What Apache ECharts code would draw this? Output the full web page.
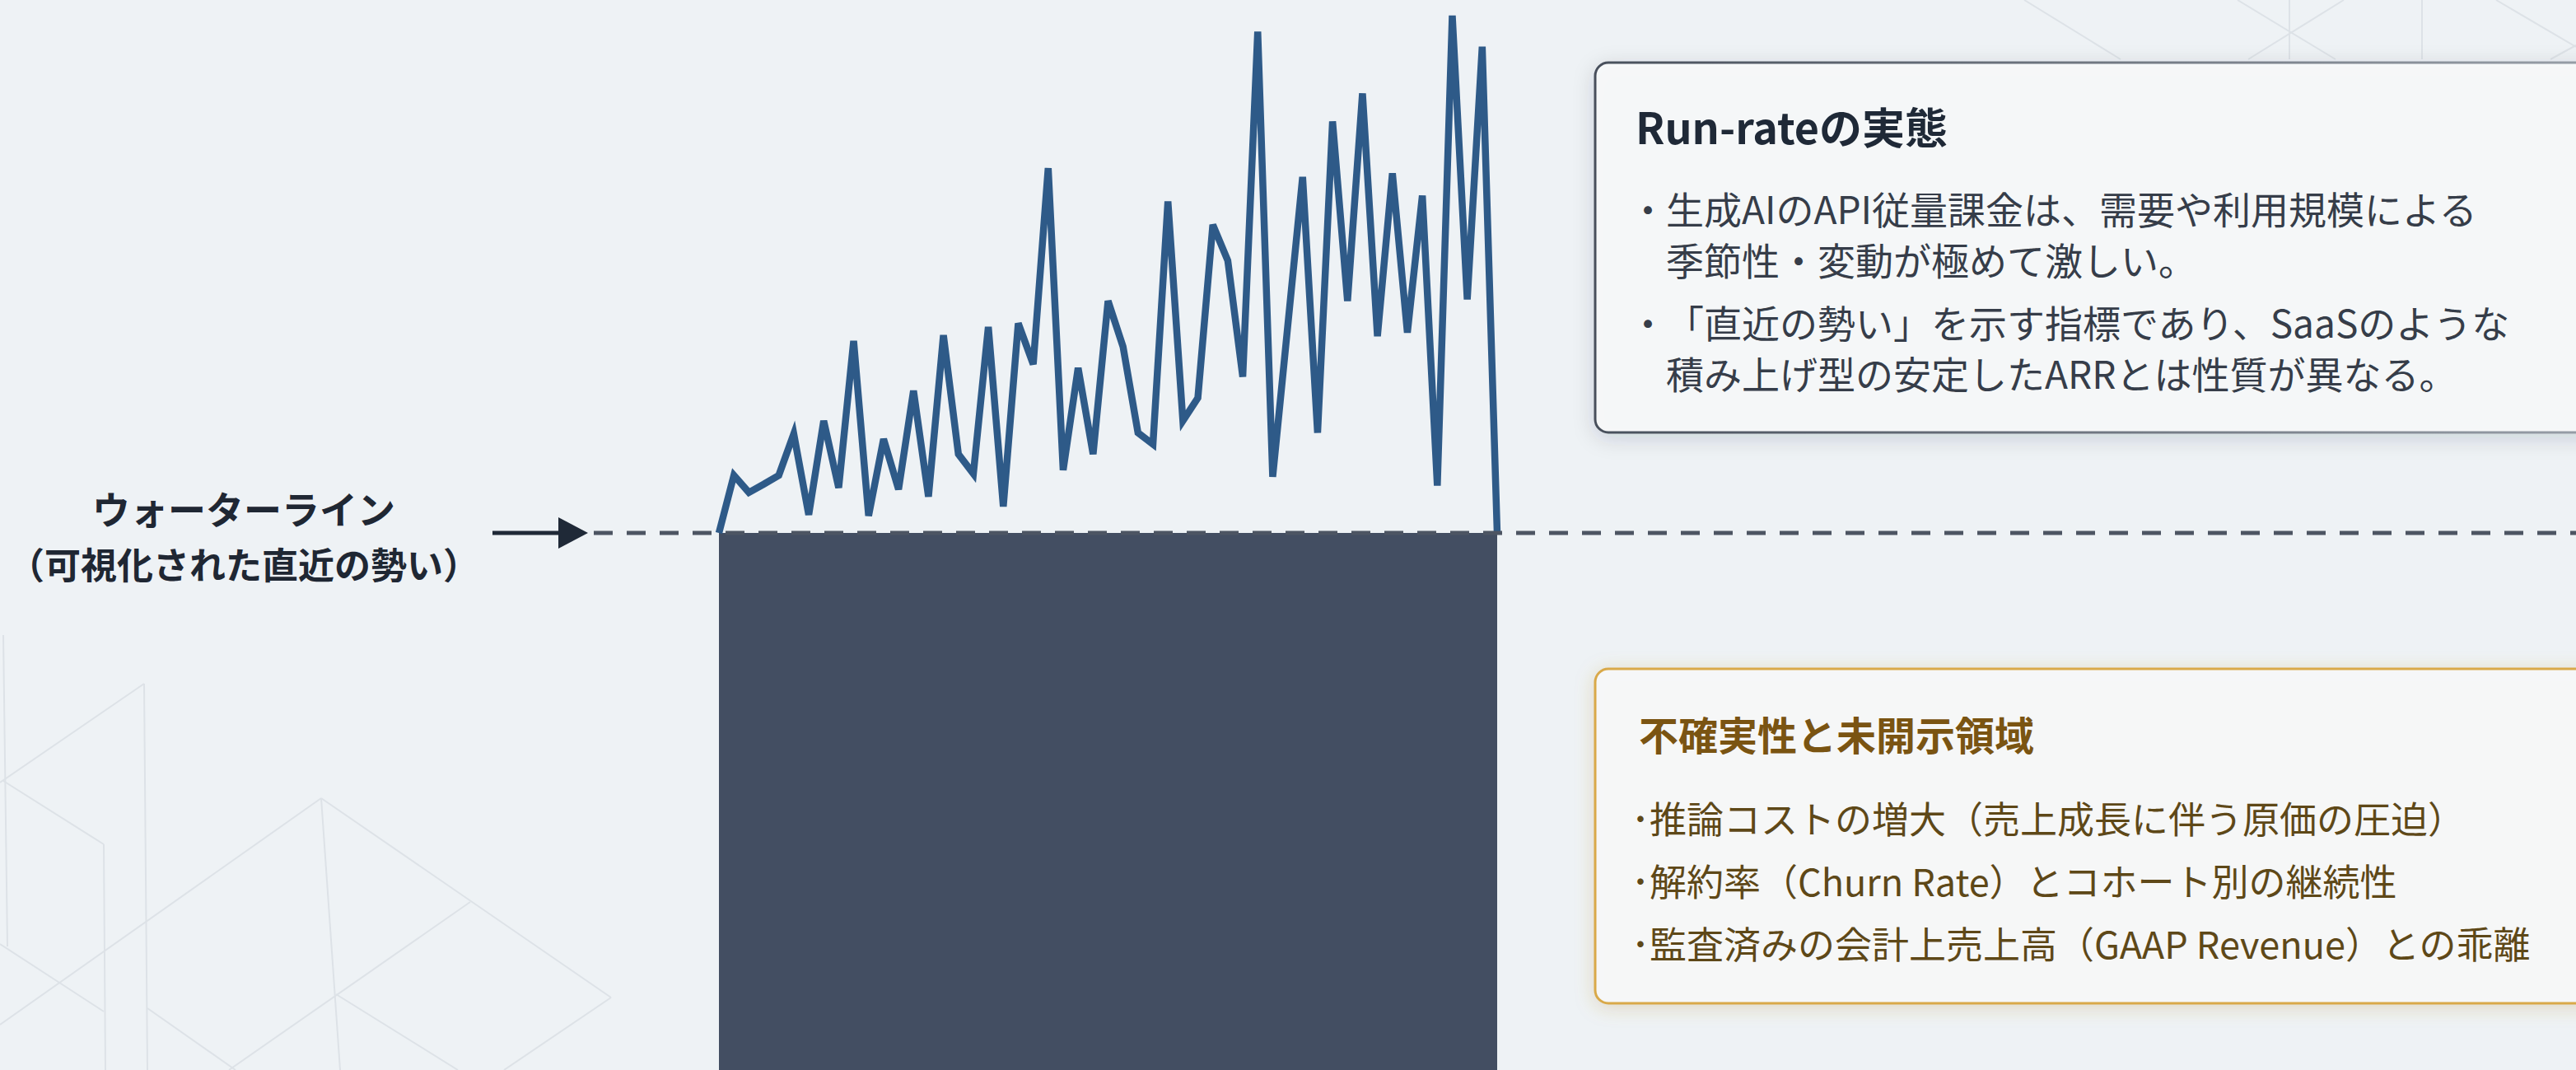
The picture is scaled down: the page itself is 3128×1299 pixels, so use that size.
<!DOCTYPE html>
<html><head><meta charset="utf-8">
<script src="https://cdn.jsdelivr.net/npm/echarts@6/dist/echarts.min.js"></script>
<style>html,body{margin:0;padding:0;background:#eef2f5;}#c{width:3128px;height:1299px;}</style>
</head><body><div id="c"></div>
<script>
// ---- data ----
const periods = ['1','2','3','4','5','6','7','8','9','10','11','12','13','14','15','16','17','18','19','20',
  '21','22','23','24','25','26','27','28','29','30','31','32','33','34','35','36','37','38','39','40',
  '41','42','43','44','45','46','47','48','49','50','51','52','53'];
const runRate = [0, 11.1, 7.8, 9.4, 11.1, 19.1, 3.5, 21.6, 8.7, 37.0, 3.3, 18.1, 8.4, 27.4, 7.0, 38.1, 15.2, 11.4,
  39.7, 5.1, 40.4, 32.5, 70.3, 12.1, 31.8, 15.2, 44.7, 35.9, 19.3, 17.1, 63.9, 21.6, 26.0, 59.4, 52.5, 30.1,
  96.6, 10.8, 39.7, 68.6, 19.3, 79.3, 44.7, 84.7, 37.9, 69.3, 38.6, 65.0, 9.1, 99.7, 45.0, 93.7, 0];
const waterline = 0;
const yMin = -103.5, yMax = 102.7;
const leftLabel = ['ウォーターライン', '（可視化された直近の勢い）'];
const box1Title = 'Run-rateの実態';
const box1Bullets = [
  ['生成AIのAPI従量課金は、需要や利用規模による', '季節性・変動が極めて激しい。'],
  ['「直近の勢い」を示す指標であり、SaaSのような', '積み上げ型の安定したARRとは性質が異なる。']
];
const box2Title = '不確実性と未開示領域';
const box2Bullets = [
  '推論コストの増大（売上成長に伴う原価の圧迫）',
  '解約率（Churn Rate）とコホート別の継続性',
  '監査済みの会計上売上高（GAAP Revenue）との乖離'
];

// ---- chart ----
const FONT = "'Noto Sans CJK JP','Noto Sans',sans-serif";
const chart = echarts.init(document.getElementById('c'), null, {renderer: 'svg'});
chart.setOption({
  backgroundColor: '#eef2f5',
  animation: false,
  grid: {left: 873, right: 1310, top: 0, bottom: 0},
  xAxis: {type: 'category', data: periods, boundaryGap: false, show: false},
  yAxis: {type: 'value', min: yMin, max: yMax, show: false},
  series: [{
    type: 'line', data: runRate, showSymbol: false, z: 3,
    lineStyle: {color: '#2e5a88', width: 8.5, join: 'miter'},
    markArea: {
      silent: true,
      itemStyle: {color: '#434e62', opacity: 1},
      data: [[{coord: [periods[0], waterline]}, {coord: [periods[periods.length - 1], yMin]}]]
    }
  }]
});

const y0 = chart.convertToPixel({gridIndex: 0}, [periods[0], waterline])[1];

const bgSegs = [
  [[4,771],[9,1149]], [[0,950],[175,830]], [[175,830],[179,1299]], [[4,948],[126,1025]],
  [[126,1025],[128,1299]], [[0,1146],[126,1228]], [[0,1244],[390,969]], [[390,969],[742,1211]],
  [[390,969],[413,1299]], [[571,1095],[278,1299]], [[742,1211],[612,1299]], [[408,1207],[556,1299]],
  [[179,1224],[286,1299]],
  [[2458,0],[2575,72]], [[2717,0],[2836,72]], [[2846,0],[2730,72]], [[2780,0],[2780,72]],
  [[2941,0],[2941,72]], [[3031,0],[3128,57]], [[3097,72],[3128,55]]
];
const g = [];
bgSegs.forEach(s => g.push({type: 'polyline', z: 0, silent: true, shape: {points: s},
  style: {stroke: '#dde2e7', lineWidth: 2, fill: null}}));

// waterline dashed + arrow
g.push({type: 'line', z: 10, shape: {x1: 721, y1: y0, x2: 3128, y2: y0},
  style: {stroke: '#4d5563', lineWidth: 5, lineDash: [23, 17]}});
g.push({type: 'line', z: 10, shape: {x1: 598, y1: y0, x2: 684, y2: y0},
  style: {stroke: '#1f2937', lineWidth: 5}});
g.push({type: 'polygon', z: 10, shape: {points: [[678, y0 - 19], [714, y0], [678, y0 + 19]]},
  style: {fill: '#1f2937'}});

// left label
leftLabel.forEach((t, i) => g.push({type: 'text', z: 10, style: {
  text: t, x: 296, y: 616 + i * 68, align: 'center', verticalAlign: 'middle',
  fontSize: i === 0 ? 46 : 44, fontWeight: 'bold', fontFamily: FONT, fill: '#1f2733'}}));

// box 1
g.push({type: 'rect', z: 8, shape: {x: 1937, y: 76, width: 1260, height: 449, r: 16},
  style: {fill: 'rgba(247,249,250,0.92)', lineWidth: 3,
    stroke: new echarts.graphic.LinearGradient(0, 0, 1, 0, [{offset: 0, color: '#48505c'}, {offset: 1, color: '#9aa1aa'}]),
    shadowBlur: 26, shadowColor: 'rgba(30,40,60,0.16)', shadowOffsetY: 6}});
g.push({type: 'text', z: 10, style: {text: box1Title, x: 1986, y: 152, align: 'left', verticalAlign: 'middle',
  fontSize: 52, fontWeight: 'bold', fontFamily: FONT, fill: '#1f2937'}});
const b1y = [[252, 314], [390, 452]];
box1Bullets.forEach((lines, bi) => {
  g.push({type: 'text', z: 10, style: {text: '・', x: 2001, y: b1y[bi][0], align: 'center', verticalAlign: 'middle',
    fontSize: 46, fontFamily: FONT, fill: '#363d49'}});
  lines.forEach((t, li) => g.push({type: 'text', z: 10, style: {text: t, x: 2023, y: b1y[bi][li],
    align: 'left', verticalAlign: 'middle', fontSize: 46, fontFamily: FONT, fill: '#363d49'}}));
});

// box 2
g.push({type: 'rect', z: 8, shape: {x: 1937, y: 812, width: 1260, height: 406, r: 16},
  style: {fill: 'rgba(247,249,250,0.92)', lineWidth: 3, stroke: '#d9a94a',
    shadowBlur: 22, shadowColor: 'rgba(190,140,50,0.28)', shadowOffsetY: 4}});
g.push({type: 'text', z: 10, style: {text: box2Title, x: 1990, y: 890, align: 'left', verticalAlign: 'middle',
  fontSize: 48, fontWeight: 'bold', fontFamily: FONT, fill: '#7a5412'}});
box2Bullets.forEach((t, i) => {
  const yy = 992 + i * 76;
  g.push({type: 'text', z: 10, style: {text: '･', x: 1992, y: yy, align: 'center', verticalAlign: 'middle',
    fontSize: 45, fontFamily: FONT, fill: '#5e4818'}});
  g.push({type: 'text', z: 10, style: {text: t, x: 2003, y: yy, align: 'left', verticalAlign: 'middle',
    fontSize: 45, fontWeight: 'normal', fontFamily: FONT, fill: '#5e4818'}});
});

chart.setOption({graphic: {elements: g}});
</script>
</body></html>
